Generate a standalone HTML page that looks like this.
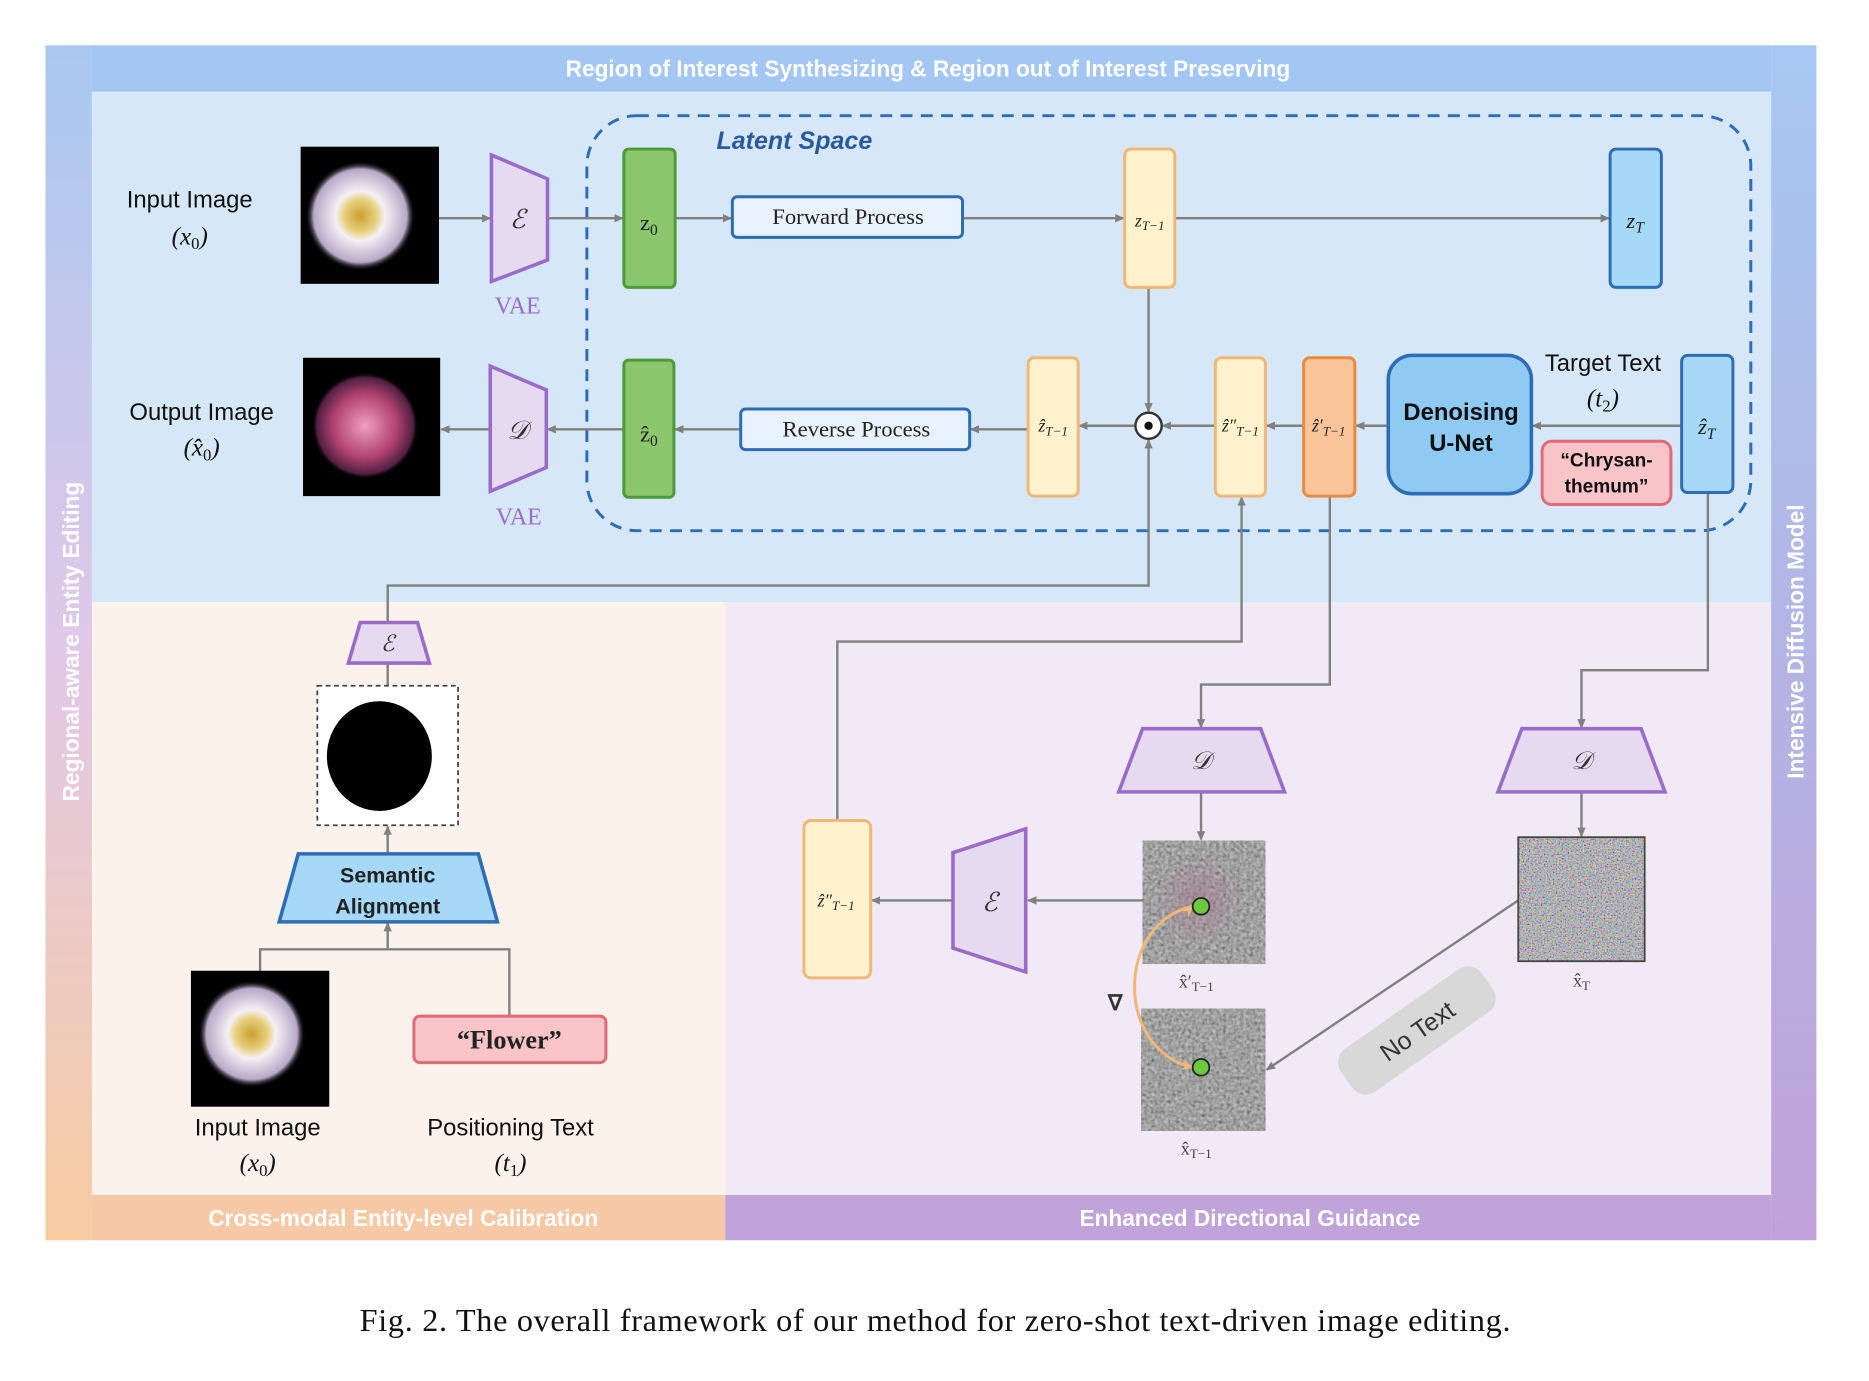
<!DOCTYPE html>
<html><head><meta charset="utf-8"><style>
html,body{margin:0;padding:0;background:#fff;}
svg{display:block;}
text{font-family:"Liberation Sans",sans-serif;}
.serif{font-family:"Liberation Serif",serif;}
</style></head><body>
<svg width="1869" height="1381" viewBox="0 0 1567 1158" xmlns="http://www.w3.org/2000/svg">
<defs>
<linearGradient id="lg" x1="0" y1="0" x2="0" y2="1"><stop offset="0" stop-color="#a8c8f0"/><stop offset="0.5" stop-color="#e0c8e8"/><stop offset="1" stop-color="#f8cca0"/></linearGradient>
<linearGradient id="rg" x1="0" y1="0" x2="0" y2="1"><stop offset="0" stop-color="#a6c8f2"/><stop offset="1" stop-color="#c0a2d8"/></linearGradient>
<radialGradient id="fw"><stop offset="0" stop-color="#c9a030"/><stop offset="0.3" stop-color="#e8d080"/><stop offset="0.45" stop-color="#f4f0f4"/><stop offset="0.85" stop-color="#b8a8c8"/><stop offset="1" stop-color="#000" stop-opacity="0"/></radialGradient>
<radialGradient id="fp"><stop offset="0" stop-color="#f0a0c0"/><stop offset="0.6" stop-color="#b04070"/><stop offset="0.9" stop-color="#502040"/><stop offset="1" stop-color="#000" stop-opacity="0"/></radialGradient>
<radialGradient id="pk"><stop offset="0" stop-color="#a87890" stop-opacity="0.6"/><stop offset="1" stop-color="#a87890" stop-opacity="0"/></radialGradient>
<filter id="ng" x="0" y="0" width="1" height="1"><feTurbulence type="fractalNoise" baseFrequency="0.35" numOctaves="2" seed="3"/><feColorMatrix type="matrix" values="0.3 0.3 0.3 0 -0.1 0.3 0.3 0.3 0 -0.1 0.3 0.3 0.3 0 -0.1 0 0 0 0 1"/></filter>
<filter id="nc" x="0" y="0" width="1" height="1"><feTurbulence type="fractalNoise" baseFrequency="0.8" numOctaves="1" seed="7"/><feColorMatrix type="matrix" values="1.6 -0.5 -0.5 0 0.15 -0.5 1.6 -0.5 0 0.15 -0.5 -0.5 1.6 0 0.17 0 0 0 0 1"/></filter>
<marker id="ar" markerWidth="8" markerHeight="8" refX="7" refY="4" orient="auto" markerUnits="userSpaceOnUse"><path d="M0,0.5 L8,4 L0,7.5z" fill="#808080"/></marker>
<marker id="ao" markerWidth="10" markerHeight="10" refX="9" refY="5" orient="auto" markerUnits="userSpaceOnUse"><path d="M0,1 L10,5 L0,9 L3,5z" fill="#f0b878"/></marker>
</defs>

<rect x="38" y="38" width="39" height="1002" fill="url(#lg)"/>
<rect x="1485" y="38" width="38" height="1002" fill="url(#rg)"/>
<rect x="77" y="38" width="1408" height="39" fill="#a4c6f2"/>
<rect x="77" y="77" width="1408" height="428" fill="#d6e8f8"/>
<rect x="77" y="505" width="531" height="497" fill="#fcf2ec"/>
<rect x="608" y="505" width="877" height="497" fill="#f1e9f5"/>
<rect x="77" y="1002" width="531" height="38" fill="#f7c8a6"/>
<rect x="608" y="1002" width="877" height="38" fill="#c0a3d8"/>
<text x="778" y="64" text-anchor="middle" fill="#fff" font-size="19" font-weight="bold">Region of Interest Synthesizing &amp; Region out of Interest Preserving</text>
<text x="338" y="1028" text-anchor="middle" fill="#fff" font-size="19" font-weight="bold">Cross-modal Entity-level Calibration</text>
<text x="1048" y="1028" text-anchor="middle" fill="#fff" font-size="19" font-weight="bold">Enhanced Directional Guidance</text>
<text transform="translate(66,538) rotate(-90)" text-anchor="middle" fill="#fff" font-size="19" font-weight="bold">Regional-aware Entity Editing</text>
<text transform="translate(1512,538) rotate(-90)" text-anchor="middle" fill="#fff" font-size="19" font-weight="bold">Intensive Diffusion Model</text>

<rect x="492" y="97" width="976" height="348" rx="42" fill="none" stroke="#2e6db4" stroke-width="2.5" stroke-dasharray="10,7"/>
<text x="666" y="125" text-anchor="middle" fill="#2a5a9a" font-size="21" font-weight="bold" font-style="italic">Latent Space</text>

<g stroke="#808080" stroke-width="2" fill="none">
<line x1="368" y1="183" x2="411" y2="183" marker-end="url(#ar)"/>
<line x1="459" y1="183" x2="522" y2="183" marker-end="url(#ar)"/>
<line x1="566" y1="183" x2="613" y2="183" marker-end="url(#ar)"/>
<line x1="807" y1="183" x2="942" y2="183" marker-end="url(#ar)"/>
<line x1="985" y1="183" x2="1349" y2="183" marker-end="url(#ar)"/>
<line x1="1410" y1="357" x2="1285" y2="357" marker-end="url(#ar)"/>
<line x1="1164" y1="357" x2="1137" y2="357" marker-end="url(#ar)"/>
<line x1="1093" y1="357" x2="1062" y2="357" marker-end="url(#ar)"/>
<line x1="1019" y1="357" x2="975" y2="357" marker-end="url(#ar)"/>
<line x1="952" y1="357" x2="905" y2="357" marker-end="url(#ar)"/>
<line x1="862" y1="360" x2="814" y2="360" marker-end="url(#ar)"/>
<line x1="621" y1="360" x2="566" y2="360" marker-end="url(#ar)"/>
<line x1="523" y1="360" x2="459" y2="360" marker-end="url(#ar)"/>
<line x1="411" y1="360" x2="370" y2="360" marker-end="url(#ar)"/>
<line x1="963" y1="241" x2="963" y2="345" marker-end="url(#ar)"/>
<polyline points="325,522 325,491 963,491 963,369" marker-end="url(#ar)"/>
<line x1="325" y1="556" x2="325" y2="575"/>
<line x1="325" y1="716" x2="325" y2="693" marker-end="url(#ar)"/>
<line x1="325" y1="796" x2="325" y2="774" marker-end="url(#ar)"/>
<polyline points="218,814 218,796 427,796 427,852"/>
<polyline points="702,688 702,538 1041,538 1041,417" marker-end="url(#ar)"/>
<polyline points="1115,416 1115,574 1007,574 1007,610" marker-end="url(#ar)"/>
<polyline points="1432,413 1432,562 1326,562 1326,610" marker-end="url(#ar)"/>
<line x1="1007" y1="664" x2="1007" y2="704" marker-end="url(#ar)"/>
<line x1="1326" y1="664" x2="1326" y2="701" marker-end="url(#ar)"/>
<line x1="958" y1="755" x2="862" y2="755" marker-end="url(#ar)"/>
<line x1="799" y1="755" x2="731" y2="755" marker-end="url(#ar)"/>
<line x1="1273" y1="755" x2="1062" y2="897" marker-end="url(#ar)"/>
</g>

<text x="159" y="174" text-anchor="middle" font-size="20" fill="#111">Input Image</text>
<text x="159" y="205" text-anchor="middle" font-size="21" class="serif" font-style="italic" fill="#111">(x<tspan font-size="14" dy="4" font-style="normal">0</tspan><tspan dy="-4">)</tspan></text>
<rect x="252" y="123" width="116" height="115" fill="#000"/>
<circle cx="302" cy="181" r="46" fill="url(#fw)"/>
<path d="M412,130 L459,150 L459,218 L412,236z" fill="#e6daf0" stroke="#9a6cc8" stroke-width="3"/>
<text x="434" y="191" text-anchor="middle" font-size="22" class="serif" font-style="italic" fill="#333">ℰ</text>
<text x="434" y="263" text-anchor="middle" font-size="20" class="serif" fill="#9a6cc8">VAE</text>
<rect x="523" y="125" width="43" height="116" rx="4" fill="#8cc76e" stroke="#4e9a38" stroke-width="2.5"/>
<text x="544" y="193" text-anchor="middle" font-size="19" class="serif" fill="#222">z<tspan font-size="13" dy="4">0</tspan></text>
<rect x="614" y="165" width="193" height="34" rx="4" fill="#e8f2fc" stroke="#2e6db4" stroke-width="2.5"/>
<text x="711" y="188" text-anchor="middle" font-size="19" class="serif" fill="#222">Forward Process</text>
<rect x="943" y="125" width="42" height="116" rx="5" fill="#fff2cc" stroke="#f0b878" stroke-width="2.5"/>
<text x="964" y="190" text-anchor="middle" font-size="15" class="serif" font-style="italic" fill="#222">z<tspan font-size="11" dy="3">T−1</tspan></text>
<rect x="1350" y="125" width="43" height="116" rx="5" fill="#a6d8f8" stroke="#2e6db4" stroke-width="2.5"/>
<text x="1371" y="191" text-anchor="middle" font-size="19" class="serif" font-style="italic" fill="#222">z<tspan font-size="13" dy="4">T</tspan></text>

<text x="169" y="352" text-anchor="middle" font-size="20" fill="#111">Output Image</text>
<text x="169" y="382" text-anchor="middle" font-size="21" class="serif" font-style="italic" fill="#111">(x̂<tspan font-size="14" dy="4" font-style="normal">0</tspan><tspan dy="-4">)</tspan></text>
<rect x="254" y="300" width="115" height="116" fill="#000"/>
<circle cx="306" cy="357" r="45" fill="url(#fp)"/>
<path d="M411,307 L458,327 L458,392 L411,412z" fill="#e6daf0" stroke="#9a6cc8" stroke-width="3"/>
<text x="434" y="368" text-anchor="middle" font-size="22" class="serif" font-style="italic" fill="#333">𝒟</text>
<text x="435" y="440" text-anchor="middle" font-size="20" class="serif" fill="#9a6cc8">VAE</text>
<rect x="523" y="302" width="42" height="115" rx="4" fill="#8cc76e" stroke="#4e9a38" stroke-width="2.5"/>
<text x="544" y="370" text-anchor="middle" font-size="19" class="serif" fill="#222">ẑ<tspan font-size="13" dy="4">0</tspan></text>
<rect x="621" y="343" width="192" height="34" rx="4" fill="#e8f2fc" stroke="#2e6db4" stroke-width="2.5"/>
<text x="718" y="366" text-anchor="middle" font-size="19" class="serif" fill="#222">Reverse Process</text>
<rect x="862" y="300" width="42" height="116" rx="5" fill="#fff2cc" stroke="#f0b878" stroke-width="2.5"/>
<text x="883" y="362" text-anchor="middle" font-size="15" class="serif" font-style="italic" fill="#222">ẑ<tspan font-size="11" dy="3">T−1</tspan></text>
<circle cx="963" cy="357" r="11" fill="#fff" stroke="#333" stroke-width="2"/>
<circle cx="963" cy="357" r="3.5" fill="#111"/>
<rect x="1019" y="300" width="42" height="116" rx="5" fill="#fff2cc" stroke="#f0b878" stroke-width="2.5"/>
<text x="1040" y="362" text-anchor="middle" font-size="15" class="serif" font-style="italic" fill="#222">ẑ″<tspan font-size="11" dy="3">T−1</tspan></text>
<rect x="1093" y="300" width="43" height="116" rx="5" fill="#f9c49a" stroke="#e88a40" stroke-width="2.5"/>
<text x="1114" y="362" text-anchor="middle" font-size="15" class="serif" font-style="italic" fill="#222">ẑ′<tspan font-size="11" dy="3">T−1</tspan></text>
<rect x="1164" y="298" width="120" height="116" rx="20" fill="#8fcaf2" stroke="#2e6db4" stroke-width="3"/>
<text x="1225" y="352" text-anchor="middle" font-size="20" font-weight="bold" fill="#111">Denoising</text>
<text x="1225" y="378" text-anchor="middle" font-size="20" font-weight="bold" fill="#111">U-Net</text>
<text x="1344" y="311" text-anchor="middle" font-size="20" fill="#111">Target Text</text>
<text x="1344" y="341" text-anchor="middle" font-size="21" class="serif" font-style="italic" fill="#111">(t<tspan font-size="14" dy="4" font-style="normal">2</tspan><tspan dy="-4">)</tspan></text>
<rect x="1293" y="370" width="108" height="53" rx="8" fill="#f8c4c8" stroke="#e06a78" stroke-width="2.5"/>
<text x="1347" y="391" text-anchor="middle" font-size="16" font-weight="bold" fill="#111">“Chrysan-</text>
<text x="1347" y="413" text-anchor="middle" font-size="16" font-weight="bold" fill="#111">themum”</text>
<rect x="1410" y="298" width="43" height="115" rx="5" fill="#a6d8f8" stroke="#2e6db4" stroke-width="2.5"/>
<text x="1431" y="364" text-anchor="middle" font-size="19" class="serif" font-style="italic" fill="#222">ẑ<tspan font-size="13" dy="4">T</tspan></text>

<path d="M302,522 L350,522 L360,556 L292,556z" fill="#e6daf0" stroke="#9a6cc8" stroke-width="3"/>
<text x="325" y="546" text-anchor="middle" font-size="19" class="serif" font-style="italic" fill="#333">ℰ</text>
<rect x="266" y="575" width="118" height="117" fill="#fff" stroke="#444" stroke-width="1.5" stroke-dasharray="4,3"/>
<ellipse cx="318" cy="634" rx="44" ry="46" fill="#000"/>
<path d="M250,716 L401,716 L417,773 L234,773z" fill="#a6d8f8" stroke="#2e6db4" stroke-width="3"/>
<text x="325" y="740" text-anchor="middle" font-size="18" font-weight="bold" fill="#222">Semantic</text>
<text x="325" y="766" text-anchor="middle" font-size="18" font-weight="bold" fill="#222">Alignment</text>
<rect x="160" y="814" width="116" height="114" fill="#000"/>
<circle cx="211" cy="867" r="45" fill="url(#fw)"/>
<rect x="347" y="852" width="161" height="39" rx="5" fill="#f8c4c8" stroke="#e06a78" stroke-width="2.5"/>
<text x="427" y="879" text-anchor="middle" font-size="22" class="serif" font-weight="bold" fill="#222">“Flower”</text>
<text x="216" y="952" text-anchor="middle" font-size="20" fill="#111">Input Image</text>
<text x="216" y="982" text-anchor="middle" font-size="21" class="serif" font-style="italic" fill="#111">(x<tspan font-size="14" dy="4" font-style="normal">0</tspan><tspan dy="-4">)</tspan></text>
<text x="428" y="952" text-anchor="middle" font-size="20" fill="#111">Positioning Text</text>
<text x="428" y="982" text-anchor="middle" font-size="21" class="serif" font-style="italic" fill="#111">(t<tspan font-size="14" dy="4" font-style="normal">1</tspan><tspan dy="-4">)</tspan></text>

<path d="M958,611 L1057,611 L1077,664 L938,664z" fill="#e6daf0" stroke="#9a6cc8" stroke-width="3"/>
<text x="1007" y="645" text-anchor="middle" font-size="21" class="serif" font-style="italic" fill="#333">𝒟</text>
<path d="M1276,611 L1376,611 L1396,664 L1256,664z" fill="#e6daf0" stroke="#9a6cc8" stroke-width="3"/>
<text x="1326" y="645" text-anchor="middle" font-size="21" class="serif" font-style="italic" fill="#333">𝒟</text>
<rect x="958" y="705" width="103" height="103" filter="url(#ng)"/>
<circle cx="1005" cy="755" r="38" fill="url(#pk)"/>
<rect x="957" y="846" width="104" height="102" filter="url(#ng)"/>
<rect x="1273" y="702" width="106" height="104" filter="url(#nc)"/>
<rect x="1273" y="702" width="106" height="104" fill="none" stroke="#444" stroke-width="1.5"/>
<path d="M1000,760 C935,775 935,880 1000,895" fill="none" stroke="#f0b878" stroke-width="2.5" marker-end="url(#ao)"/>
<path d="M1000,895 C970,880 950,810 1000,760" fill="none" stroke="#f0b878" stroke-width="0" marker-end="url(#ao)"/>
<circle cx="1007" cy="760" r="7" fill="#6cc83c" stroke="#222" stroke-width="1.5"/>
<circle cx="1007" cy="895" r="7" fill="#6cc83c" stroke="#222" stroke-width="1.5"/>
<text x="935" y="847" text-anchor="middle" font-size="18" class="serif" font-weight="bold" fill="#333">∇</text>
<text x="1003" y="828" text-anchor="middle" font-size="15" class="serif" fill="#444">x̂′<tspan font-size="11" dy="3">T−1</tspan></text>
<text x="1003" y="968" text-anchor="middle" font-size="15" class="serif" fill="#444">x̂<tspan font-size="11" dy="3">T−1</tspan></text>
<text x="1326" y="827" text-anchor="middle" font-size="15" class="serif" fill="#444">x̂<tspan font-size="11" dy="3">T</tspan></text>
<path d="M860,695 L860,815 L799,795 L799,715z" fill="#e6daf0" stroke="#9a6cc8" stroke-width="3"/>
<text x="830" y="764" text-anchor="middle" font-size="22" class="serif" font-style="italic" fill="#333">ℰ</text>
<rect x="674" y="688" width="56" height="132" rx="6" fill="#fff2cc" stroke="#f0b878" stroke-width="2.5"/>
<text x="701" y="760" text-anchor="middle" font-size="15" class="serif" font-style="italic" fill="#222">ẑ″<tspan font-size="11" dy="3">T−1</tspan></text>
<g transform="translate(1188,864) rotate(-35)">
<rect x="-72" y="-22" width="144" height="44" rx="14" fill="#d8d8d8"/>
<text x="0" y="8" text-anchor="middle" font-size="21" fill="#333">No Text</text>
</g>

<text x="784" y="1116" text-anchor="middle" font-size="27" class="serif" fill="#111" textLength="965" lengthAdjust="spacing">Fig. 2.  The overall framework of our method for zero-shot text-driven image editing.</text>
</svg>
</body></html>
